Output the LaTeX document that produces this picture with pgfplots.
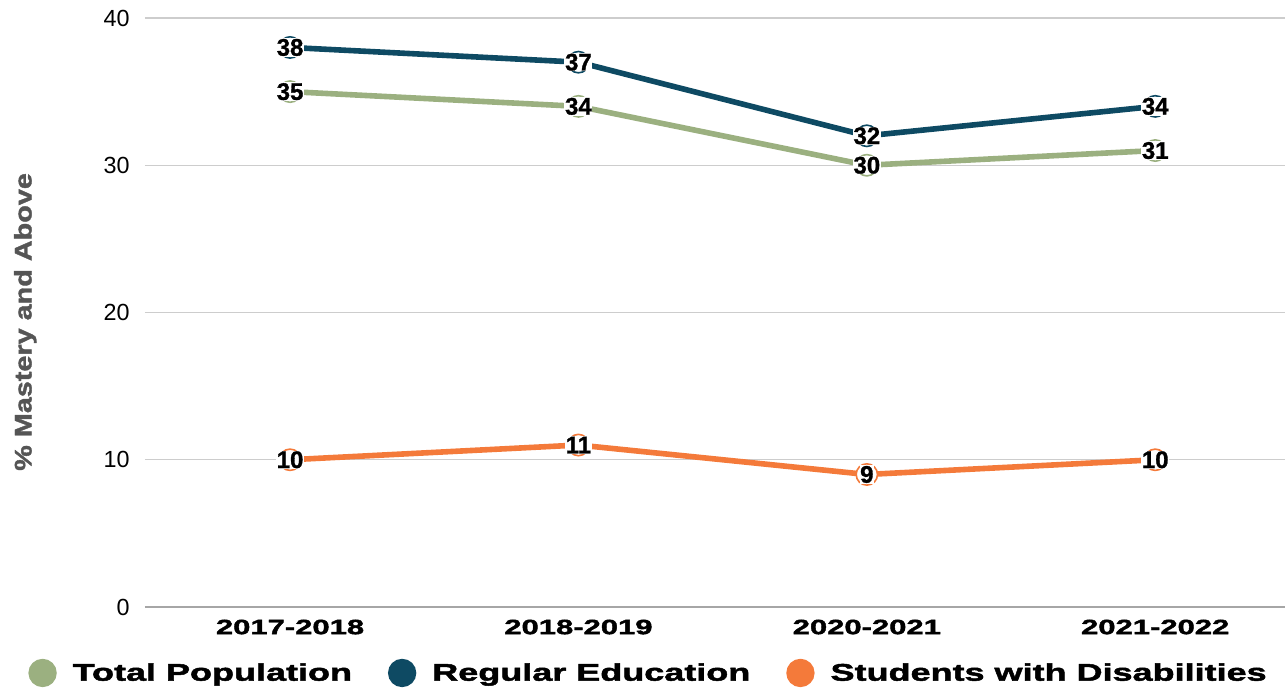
\documentclass[border=0pt]{standalone}
\usepackage{pgfplots}
\pgfplotsset{compat=1.18}
\usepackage{fontspec}
\setmainfont{Liberation Sans}
\newfontfamily\wide[FakeStretch=1.5,FakeBold=2]{Liberation Sans Bold}
\newfontfamily\ylab[FakeStretch=1.2,FakeBold=1.5]{Liberation Sans Bold}
\newfontfamily\lab[FakeBold=1.2]{Liberation Sans Bold}
\definecolor{cgreen}{RGB}{155,176,128}
\definecolor{cnavy}{RGB}{14,74,99}
\definecolor{corange}{RGB}{244,122,58}
\definecolor{cgrid}{RGB}{205,205,205}
\definecolor{cylab}{RGB}{85,85,85}
\begin{document}
\begin{tikzpicture}
\begin{axis}[
  at={(0,0)}, anchor=south west,
  width=855pt, height=441.75pt, scale only axis,
  xmin=-0.503, xmax=3.45, ymin=0, ymax=40,
  xtick={0,1,2,3},
  xticklabels={2017-2018,2018-2019,2020-2021,2021-2022},
  ytick={0,10,20,30,40},
  ymajorgrids, grid style={cgrid, line width=0.9pt},
  axis x line*=bottom, axis y line*=left,
  x axis line style={draw=gray!70, line width=1pt, -},
  y axis line style={draw=none},
  major tick length=0pt,
  xticklabel style={font=\wide\fontsize{15.5}{18}\selectfont, yshift=-6pt},
  yticklabel style={font=\fontsize{17.5}{20}\selectfont, xshift=-8pt},
  /pgf/number format/assume math mode=true,
  ylabel={\% Mastery and Above},
  every axis y label/.style={at={(axis description cs:-0.105,0.484)}, rotate=90, anchor=center, font=\ylab\fontsize{18}{20}\selectfont, text=cylab},
  clip=false,
  nodes near coords,
  every node near coord/.append style={anchor=center, font=\lab\fontsize{18}{19}\selectfont, text=black, fill=white, inner sep=0.5pt},
  legend columns=3,
  legend style={draw=none, fill=none, at={(0.442,-0.112)}, anchor=center,
    font=\wide\fontsize{18}{20}\selectfont,
    /tikz/every even column/.append style={column sep=25pt}},
  legend image code/.code={\fill[#1] (9pt,0pt) circle (8.5pt);},
]
\addplot[cgreen, line width=4.2pt, mark=*, mark size=8pt, mark options={fill=white, draw=cgreen, line width=1.2pt}]
  coordinates {(0,35) (1,34) (2,30) (3,31)};
\addlegendentry{\hspace*{10pt}Total Population}
\addplot[cnavy, line width=4.2pt, mark=*, mark size=8pt, mark options={fill=white, draw=cnavy, line width=1.2pt}]
  coordinates {(0,38) (1,37) (2,32) (3,34)};
\addlegendentry{\hspace*{10pt}Regular Education}
\addplot[corange, line width=4.2pt, mark=*, mark size=8pt, mark options={fill=white, draw=corange, line width=1.2pt}]
  coordinates {(0,10) (1,11) (2,9) (3,10)};
\addlegendentry{\hspace*{10pt}Students with Disabilities}
\end{axis}
\pgfresetboundingbox
\path[use as bounding box] (-108.75pt,-62.25pt) rectangle (855pt,455.25pt);
\end{tikzpicture}
\end{document}
